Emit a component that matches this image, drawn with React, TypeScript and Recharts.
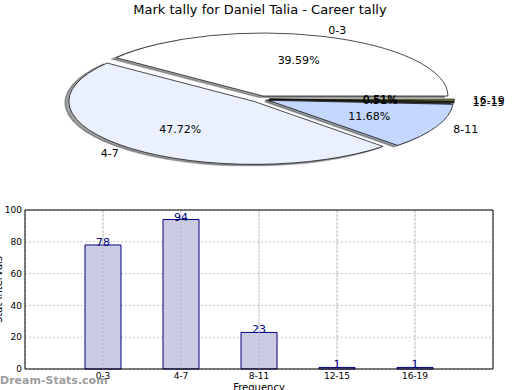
import { PieChart, Pie, BarChart, Bar, XAxis, YAxis, CartesianGrid, LabelList, ReferenceLine } from 'recharts'

const categories = ['0-3', '4-7', '8-11', '12-15', '16-19']
const counts = [78, 94, 23, 1, 1]
const yTicks = [0, 20, 40, 60, 80, 100]

const SLICE_COLORS = ['#ffffff', '#eaf0fd', '#c4d7ff', '#3c3c3c', '#9aa850']
const FONT = '"DejaVu Sans", sans-serif'
const EXPLODE = 0.05
const RY = 63 / 185
const GRID = '#b0b0b0'

const data = categories.map((name, i) => ({ name, value: counts[i] }))

const rad = (a: number) => (a * Math.PI) / 180

function wedgePath(cx: number, cy: number, rx: number, ry: number, sa: number, ea: number) {
  const x1 = cx + rx * Math.cos(rad(sa))
  const y1 = cy - ry * Math.sin(rad(sa))
  const x2 = cx + rx * Math.cos(rad(ea))
  const y2 = cy - ry * Math.sin(rad(ea))
  const large = Math.abs(ea - sa) > 180 ? 1 : 0
  return `M${cx},${cy} L${x1},${y1} A${rx},${ry} 0 ${large} 0 ${x2},${y2} Z`
}

// exploded centre of a wedge, squashed into an ellipse like the original
function geom(p: any) {
  const rx = p.outerRadius
  const ry = rx * RY
  const m = rad(p.midAngle)
  return { x: p.cx + EXPLODE * rx * Math.cos(m), y: p.cy - EXPLODE * ry * Math.sin(m), rx, ry, m }
}

function darken(hex: string) {
  const n = parseInt(hex.slice(1), 16)
  const c = [(n >> 16) & 255, (n >> 8) & 255, n & 255].map((v) => Math.round(v * 0.3))
  return `rgb(${c.join(',')})`
}

function shadowLabel(p: any) {
  const g = geom(p)
  const col = darken(SLICE_COLORS[p.index])
  return (
    <path
      d={wedgePath(g.x - 0.02 * g.rx, g.y + 0.02 * g.ry, g.rx, g.ry, p.startAngle, p.endAngle)}
      fill={col}
      fillOpacity={0.5}
      stroke={col}
      strokeOpacity={0.5}
      strokeWidth={1.5}
    />
  )
}

function wedgeLabel(p: any) {
  const g = geom(p)
  return (
    <path
      d={wedgePath(g.x, g.y, g.rx, g.ry, p.startAngle, p.endAngle)}
      fill={SLICE_COLORS[p.index]}
      stroke="#000"
      strokeWidth={0.7}
    />
  )
}

function textLabel(p: any) {
  const g = geom(p)
  const c = Math.cos(g.m)
  const s = Math.sin(g.m)
  return (
    <g fontFamily={FONT} fontSize={11} fill="#000">
      <text x={g.x + 1.1 * g.rx * c} y={g.y - 1.1 * g.ry * s} textAnchor={c > 0 ? 'start' : 'end'} dominantBaseline="central">
        {p.name}
      </text>
      <text x={g.x + 0.6 * g.rx * c} y={g.y - 0.6 * g.ry * s} textAnchor="middle" dominantBaseline="central">
        {(p.percent * 100).toFixed(2)}%
      </text>
    </g>
  )
}

export default function App() {
  return (
    <div style={{ position: 'absolute', left: 0, top: 0, width: 520, height: 390, background: '#fff', fontFamily: FONT, overflow: 'hidden' }}>
      <div style={{ position: 'absolute', left: 0, top: 0, width: 520, textAlign: 'center', fontSize: 13, lineHeight: '20px' }}>
        Mark tally for Daniel Talia - Career tally
      </div>

      <div style={{ position: 'absolute', left: 0, top: 0 }}>
        <PieChart width={520} height={200} margin={{ top: 0, right: 0, bottom: 0, left: 0 }}>
          <Pie data={data} dataKey="value" nameKey="name" cx={260} cy={99} outerRadius={185}
            startAngle={0} endAngle={360} fill="none" stroke="none"
            label={shadowLabel} labelLine={false} isAnimationActive={false} />
          <Pie data={data} dataKey="value" nameKey="name" cx={260} cy={99} outerRadius={185}
            startAngle={0} endAngle={360} fill="none" stroke="none"
            label={wedgeLabel} labelLine={false} isAnimationActive={false} />
          <Pie data={data} dataKey="value" nameKey="name" cx={260} cy={99} outerRadius={185}
            startAngle={0} endAngle={360} fill="none" stroke="none"
            label={textLabel} labelLine={false} isAnimationActive={false} />
        </PieChart>
      </div>

      <div style={{ position: 'absolute', left: 0, top: 200 }}>
        <BarChart width={520} height={190} data={data} margin={{ top: 9, right: 26, bottom: 0, left: 0 }}>
          <CartesianGrid stroke={GRID} strokeDasharray="1.5 2.5" />
          <XAxis dataKey="name" padding={{ left: 39, right: 39 }} height={21} interval={0}
            tick={{ fontSize: 9, fill: '#000', fontFamily: FONT }} tickLine={false} tickSize={0} tickMargin={4}
            axisLine={{ stroke: '#000' }}
            label={{
              content: (p: any) => (
                <text x={p.viewBox.x + p.viewBox.width / 2} y={p.viewBox.y + p.viewBox.height + 1}
                  textAnchor="middle" fontSize={10} fontFamily={FONT} fill="#000">Frequency</text>
              ),
            }} />
          <XAxis xAxisId="top" orientation="top" dataKey="name" padding={{ left: 39, right: 39 }} height={1}
            tick={false} tickLine={false} axisLine={{ stroke: '#000' }} />
          <YAxis domain={[0, 100]} ticks={yTicks} width={25} interval={0}
            tick={{ fontSize: 9, fill: '#000', fontFamily: FONT }} tickLine={false} tickSize={0} tickMargin={3}
            axisLine={{ stroke: '#000' }}
            label={{
              content: (p: any) => {
                const y = p.viewBox.y + p.viewBox.height / 2
                return (
                  <text x={2} y={y} transform={`rotate(-90 2 ${y})`} textAnchor="middle"
                    fontSize={10} fontFamily={FONT} fill="#000">Stat Intervals</text>
                )
              },
            }} />
          <YAxis yAxisId="right" orientation="right" width={1} domain={[0, 100]}
            tick={false} tickLine={false} axisLine={{ stroke: '#000' }} />
          <Bar dataKey="value" fill="#cbcbe3" stroke="#000080" strokeWidth={1} barSize={36} isAnimationActive={false}>
            <LabelList dataKey="value" position="top" offset={-1} fill="#000080" fontSize={11} fontFamily={FONT} />
          </Bar>
          {categories.map((c) => (
            <ReferenceLine key={c} x={c} stroke={GRID} strokeDasharray="1.5 2.5" />
          ))}
        </BarChart>
      </div>

      <div style={{ position: 'absolute', left: 0, top: 373, fontSize: 11, fontWeight: 'bold', color: 'rgba(130,130,130,0.8)', lineHeight: '16px' }}>
        Dream-Stats.com
      </div>
    </div>
  )
}
